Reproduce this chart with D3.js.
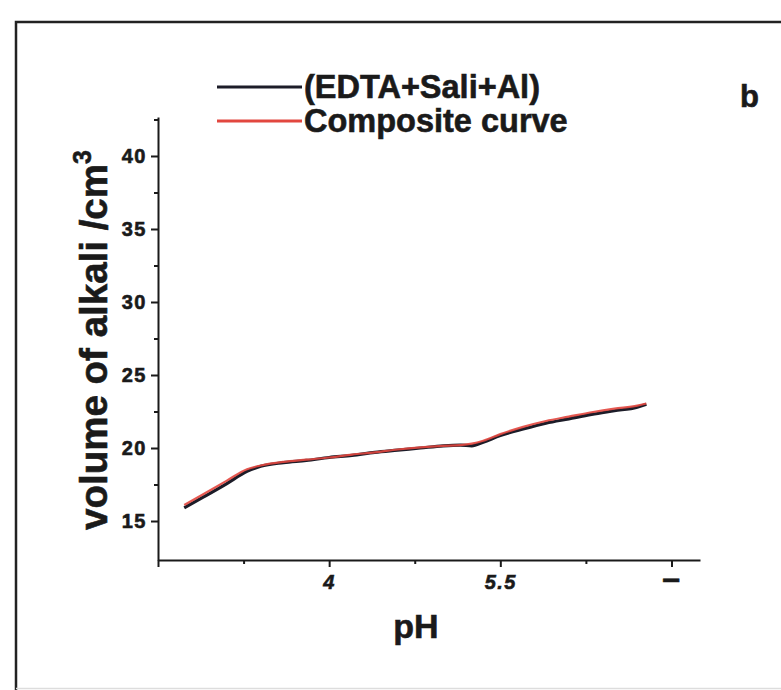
<!DOCTYPE html>
<html>
<head>
<meta charset="utf-8">
<script src="https://cdn.jsdelivr.net/npm/d3@7"></script>
<style>
  html, body { margin: 0; padding: 0; background: #fff; }
  svg { display: block; }
  text { font-family: "Liberation Sans", Arial, sans-serif; font-weight: bold; fill: #1a1a1a; stroke: #1a1a1a; stroke-width: 0.6px; }
</style>
</head>
<body>
<div id="chart"></div>
<script>
// pH readings along the titration
const ph = [2.73, 2.9, 3.1, 3.28, 3.4, 3.6, 3.8, 4.0, 4.2, 4.4, 4.6, 4.8, 5.0, 5.15, 5.25, 5.35, 5.5, 5.7, 5.9, 6.1, 6.3, 6.5, 6.7, 6.78];
// volume of alkali, experimental (EDTA+Sali+Al)
const experimental = [15.9, 16.65, 17.55, 18.4, 18.75, 19.0, 19.15, 19.35, 19.5, 19.7, 19.85, 20.0, 20.15, 20.2, 20.15, 20.4, 20.85, 21.3, 21.7, 22.0, 22.3, 22.55, 22.8, 23.0];
// volume of alkali, composite curve
const composite = [16.1, 16.85, 17.75, 18.55, 18.8, 19.05, 19.2, 19.35, 19.55, 19.7, 19.9, 20.05, 20.15, 20.2, 20.3, 20.5, 20.95, 21.45, 21.85, 22.15, 22.45, 22.7, 22.9, 23.05];

const seriesNames = ["(EDTA+Sali+Al)", "Composite curve"];
const xTicks = [2.5, 4, 5.5, 7];
const xTickLabels = ["", "4", "5.5", "\u2013"];
const xMinor = [3.25, 4.75, 6.25];
const yTicks = [15, 20, 25, 30, 35, 40];
const yMinor = [17.5, 22.5, 27.5, 32.5, 37.5, 42.5];

const width = 781, height = 690;
const svg = d3.select("#chart").append("svg")
    .attr("width", width)
    .attr("height", height);

// outer frame of the figure panel
svg.append("path")
    .attr("d", "M16,690 L16,22 L781,22")
    .attr("fill", "none")
    .attr("stroke", "#222")
    .attr("stroke-width", 2.5);
svg.append("line")
    .attr("x1", 16).attr("x2", 781)
    .attr("y1", 688.5).attr("y2", 688.5)
    .attr("stroke", "#ddd")
    .attr("stroke-width", 1.5);

const x = d3.scaleLinear().domain([2.5, 7.25]).range([158, 700]);
const y = d3.scaleLinear().domain([12.33, 42.67]).range([560, 117]);

// x axis
const xAxis = svg.append("g")
    .attr("transform", `translate(0,${y.range()[0]})`)
    .call(d3.axisBottom(x).tickValues(xTicks).tickSize(7).tickSizeOuter(0)
        .tickFormat((d, i) => xTickLabels[i]));
xAxis.selectAll("text")
    .attr("font-size", 20)
    .attr("font-style", "italic")
    .attr("letter-spacing", 1.5)
    .attr("dy", "0.95em")
    .style("font-family", "Liberation Sans, Arial, sans-serif");
xAxis.selectAll(".tick text").filter((d, i) => i === 3)
    .attr("font-size", 32).attr("font-style", "normal").attr("dy", "0.6em");
svg.append("g")
    .attr("transform", `translate(0,${y.range()[0]})`)
    .call(d3.axisBottom(x).tickValues(xMinor).tickSize(4).tickSizeOuter(0).tickFormat(""))
    .select(".domain").remove();

// y axis
const yAxis = svg.append("g")
    .attr("transform", `translate(${x.range()[0]},0)`)
    .call(d3.axisLeft(y).tickValues(yTicks).tickSize(7).tickSizeOuter(0));
yAxis.selectAll("text")
    .attr("font-size", 20)
    .attr("letter-spacing", 1.5)
    .attr("dx", "-0.05em")
    .style("font-family", "Liberation Sans, Arial, sans-serif");
svg.append("g")
    .attr("transform", `translate(${x.range()[0]},0)`)
    .call(d3.axisLeft(y).tickValues(yMinor).tickSize(4).tickSizeOuter(0).tickFormat(""))
    .select(".domain").remove();

svg.selectAll(".domain, .tick line")
    .attr("stroke", "#1a1a1a")
    .attr("stroke-width", 2);

// axis titles
svg.append("text")
    .attr("x", 416)
    .attr("y", 638)
    .attr("text-anchor", "middle")
    .attr("font-size", 34)
    .text("pH");

const yTitle = svg.append("text")
    .attr("transform", "translate(107,340) rotate(-90)")
    .attr("text-anchor", "middle")
    .attr("font-size", 38.5);
yTitle.append("tspan").text("volume of alkali /cm");
yTitle.append("tspan").attr("font-size", 25).attr("dy", -16).text("3");

// curves
const line = d3.line()
    .x((d, i) => x(ph[i]))
    .y(d => y(d))
    .curve(d3.curveMonotoneX);

svg.append("path")
    .datum(experimental)
    .attr("d", line)
    .attr("fill", "none")
    .attr("stroke", "#1c1c28")
    .attr("stroke-width", 3.2);

svg.append("path")
    .datum(composite)
    .attr("d", line)
    .attr("fill", "none")
    .attr("stroke", "#e2473f")
    .attr("stroke-width", 2.2)
    .attr("opacity", 0.9);

// legend
const legendColors = ["#1c1c28", "#e2473f"];
const legend = svg.append("g");
seriesNames.forEach((name, i) => {
    const ly = 87 + i * 34;
    legend.append("line")
        .attr("x1", 217).attr("x2", 302)
        .attr("y1", ly).attr("y2", ly)
        .attr("stroke", legendColors[i])
        .attr("stroke-width", 3);
    legend.append("text")
        .attr("x", 304)
        .attr("y", ly + 11)
        .attr("font-size", 32.5)
        .text(name);
});

// panel letter
svg.append("text")
    .attr("x", 740)
    .attr("y", 107)
    .attr("font-size", 31)
    .text("b");
</script>
</body>
</html>
